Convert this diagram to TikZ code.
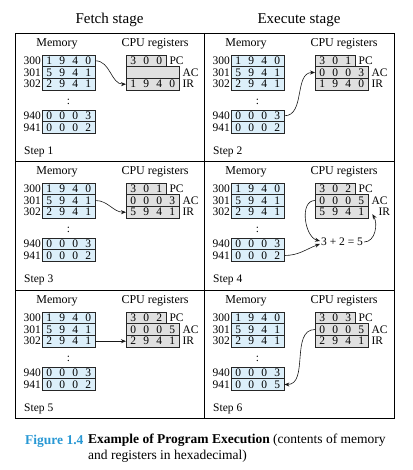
\documentclass[tikz,border=0pt]{standalone}
\usepackage{fontspec}
\setmainfont{Liberation Serif}
\usepackage{tikz}
\usetikzlibrary{arrows.meta, positioning}
\definecolor{memblue}{RGB}{220,239,250}
\definecolor{reggray}{RGB}{224,224,224}
\definecolor{capblue}{RGB}{40,152,212}

\newcommand{\hexw}[4]{\makebox[13pt]{#1}\makebox[13pt]{#2}\makebox[13pt]{#3}\makebox[13pt]{#4}}
\newcommand{\hexp}[3]{\makebox[13pt]{#1}\makebox[13pt]{#2}\makebox[13pt]{#3}}

\tikzset{
  digfont/.style={font=\fontsize{11.5}{12}\selectfont},
  lbl/.style={font=\fontsize{12}{13}\selectfont, inner sep=0pt},
  memcell/.style={draw=black!85, fill=memblue, minimum width=53pt, minimum height=11.7pt,
    inner sep=0pt, anchor=west, digfont},
  regcell/.style={draw=black!85, fill=reggray, minimum height=11.7pt,
    inner sep=0pt, anchor=west, digfont},
  addr/.style={anchor=east, inner sep=1pt, digfont},
  reglbl/.style={anchor=west, inner sep=3pt, digfont},
  flow/.style={-{Stealth[length=5pt,width=4pt]}, black!90, line width=0.6pt}
}

% #1 step, #2/#3 panel corner, #4 cell 941, #5 PC, #6 AC, #7 IR, #8 IR label gap
\newcommand{\progstep}[8]{%
\begin{scope}[shift={(#2,#3)}]
  \node[lbl] (s#1mem) at (42,11) {Memory};
  \node[lbl] (s#1cpu) at (140,11) {CPU registers};
  \node[memcell] (s#1m300) at (27,27.8) {\hexw1940};
  \node[memcell] (s#1m301) at (27,39.5) {\hexw5941};
  \node[memcell] (s#1m302) at (27,51.2) {\hexw2941};
  \node[digfont] (s#1dots) at (53.5,68.5) {:};
  \node[memcell] (s#1m940) at (27,82.8) {\hexw0003};
  \node[memcell] (s#1m941) at (27,94.5) {\hexw#4};
  \node[addr] (s#1a300) at (s#1m300.west) {300};
  \node[addr] (s#1a301) at (s#1m301.west) {301};
  \node[addr] (s#1a302) at (s#1m302.west) {302};
  \node[addr] (s#1a940) at (s#1m940.west) {940};
  \node[addr] (s#1a941) at (s#1m941.west) {941};
  \node[regcell, minimum width=40pt] (s#1pc) at (111,27.8) {\hexp#5};
  \node[regcell, minimum width=53pt] (s#1ac) at (111,39.5) {\hexw#6};
  \node[regcell, minimum width=53pt] (s#1ir) at (111,51.2) {\hexw#7};
  \node[reglbl] (s#1pcl) at (s#1pc.east) {PC};
  \node[reglbl] (s#1acl) at (s#1ac.east) {AC};
  \node[reglbl, xshift=#8] (s#1irl) at (s#1ir.east) {IR};
  \node[anchor=west, inner sep=0pt, digfont] (s#1lbl) at (9,119) {Step #1};
\end{scope}}

\begin{document}
\begin{tikzpicture}[x=1pt, y=-1pt]
\useasboundingbox (0,0) rectangle (412,470);

\node[font=\fontsize{15}{16}\selectfont] (fetch) at (109.5,20) {Fetch stage};
\node[font=\fontsize{15}{16}\selectfont] (exec) at (299,20) {Execute stage};

\draw[line width=0.8pt] (15,33) rectangle (394,418);
\draw[line width=0.8pt] (204,33) -- (204,418);
\draw[line width=0.8pt] (15,161) -- (394,161);
\draw[line width=0.8pt] (15,290) -- (394,290);

\progstep{1}{15}{33}{0002}{300}{{}{}{}{}}{1940}{0pt}
\progstep{2}{204}{33}{0002}{301}{0003}{1940}{0pt}
\progstep{3}{15}{161}{0002}{301}{0003}{5941}{0pt}
\progstep{4}{204}{161}{0002}{302}{0005}{5941}{7pt}
\progstep{5}{15}{290}{0002}{302}{0005}{2941}{0pt}
\progstep{6}{204}{290}{0005}{303}{0005}{2941}{0pt}

\draw[flow] (s1m300.east) to[out=0, in=180] (s1ir.west);
\draw[flow] (s2m940.east) to[out=0, in=180] (s2ac.west);
\draw[flow] (s3m301.east) to[out=0, in=180] (s3ir.west);

\node[digfont, inner sep=1pt] (s4sum) at (342,242) {3 + 2 = 5};
\coordinate (s4tip) at ([xshift=4pt, yshift=-2pt]s4ir.east);
\draw[flow] (s4ac.west) to[out=180, in=165] ([yshift=1pt]s4sum.west);
\draw[flow] (s4m941.east) to[out=0, in=200] ([yshift=-2pt]s4sum.west);
\draw[flow] (s4sum.east) to[out=0, in=-60] (s4tip);

\draw[flow, line width=1.2pt] (s5m302.east) -- (s5ir.west);
\draw[flow] (s6ac.west) to[out=180, in=0] (s6m941.east);

\node[anchor=base west, inner sep=0pt, text=capblue, font=\fontsize{13.5}{15}\selectfont\bfseries] (figno) at (25,444) {Figure 1.4};
\node[anchor=north west, inner sep=0pt, align=left, font=\fontsize{13.5}{15.5}\selectfont] (caption) at (88,434)
  {\textbf{Example of Program Execution} (contents of memory\\and registers in hexadecimal)};
\end{tikzpicture}
\end{document}
